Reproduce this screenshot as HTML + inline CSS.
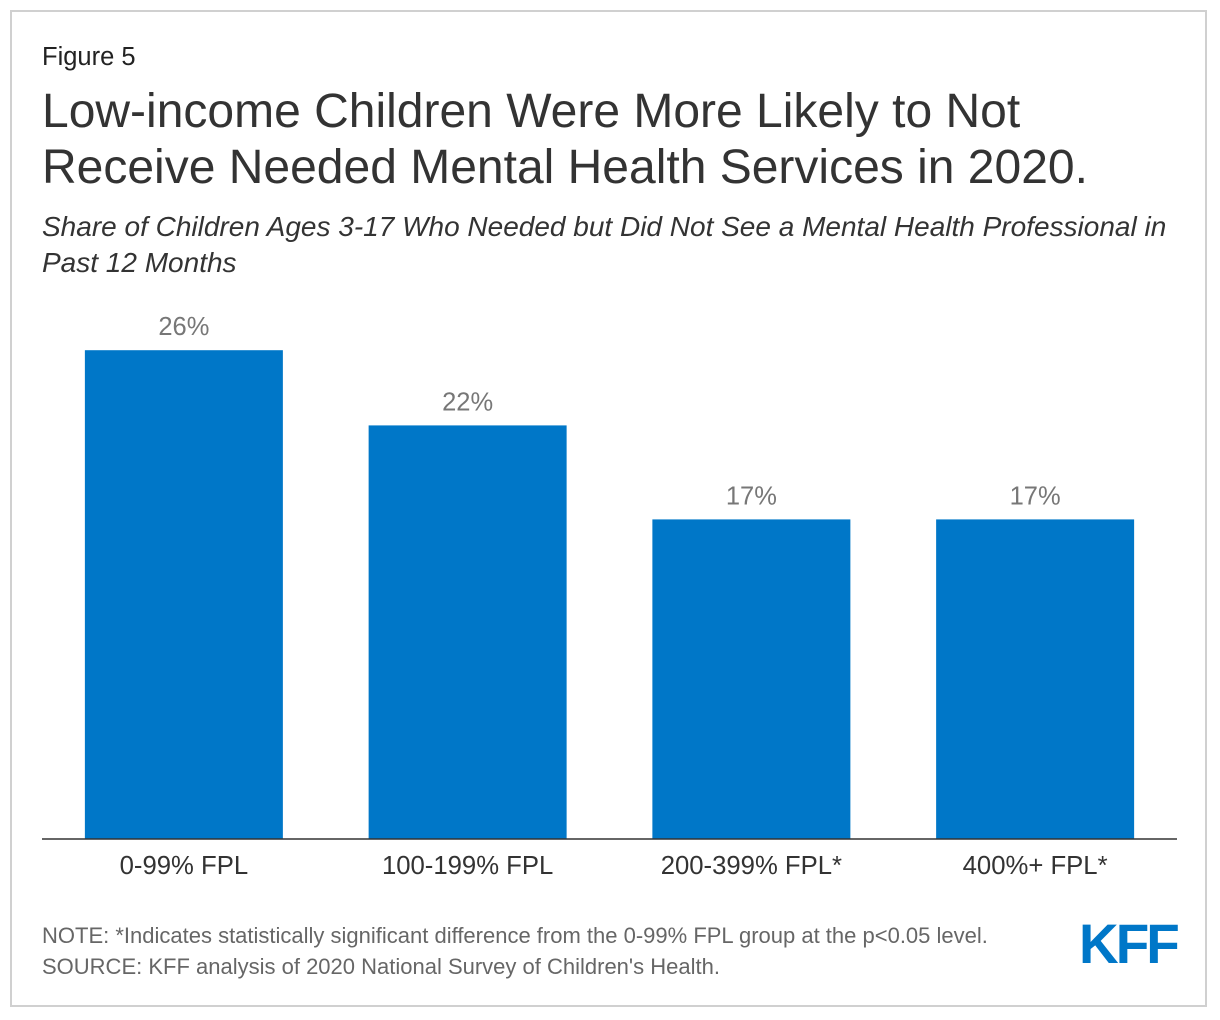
<!DOCTYPE html>
<html><head><meta charset="utf-8"><style>
html,body{margin:0;padding:0;background:#fff;}
body{width:1220px;height:1020px;position:relative;font-family:"Liberation Sans",Arial,sans-serif;overflow:hidden;}
#frame{position:absolute;left:10px;top:10px;width:1197px;height:997px;border:2px solid #d0d0d0;box-sizing:border-box;}
.t{position:absolute;left:42px;color:#333;white-space:nowrap;}
</style></head><body>
<div id="frame"></div>
<div class="t" style="top:43px;font-size:25.5px;color:#222;">Figure 5</div>
<div class="t" style="top:84px;font-size:48px;line-height:56px;color:#333;">Low-income Children Were More Likely to Not<br>Receive Needed Mental Health Services in 2020.</div>
<div class="t" style="top:209px;font-size:28px;line-height:36px;font-style:italic;color:#333;">Share of Children Ages 3-17 Who Needed but Did Not See a Mental Health Professional in<br>Past 12 Months</div>
<svg id="chart" width="1220" height="1020" style="position:absolute;left:0;top:0;"></svg>
<div class="t" style="top:923px;font-size:22px;color:#666;">NOTE: *Indicates statistically significant difference from the 0-99% FPL group at the p&lt;0.05 level.</div>
<div class="t" style="top:954px;font-size:22px;color:#666;">SOURCE: KFF analysis of 2020 National Survey of Children's Health.</div>
<div style="position:absolute;left:1079px;top:914px;font-size:56px;font-weight:bold;color:#0077c8;letter-spacing:-3px;line-height:60px;transform:scaleX(0.98);transform-origin:left;">KFF</div>
<script>
const categories=["0-99% FPL","100-199% FPL","200-399% FPL*","400%+ FPL*"];
const values=[26,22,17,17];
const valueLabels=["26%","22%","17%","17%"];
const svg=document.getElementById('chart');
const NS='http://www.w3.org/2000/svg';
const x0=42,x1=1177,base=839,pxPer=18.8,bw=198;
const step=(x1-x0)/categories.length;
function xc(i){return x0+step*(i+0.5);}
function y(v){return base-v*pxPer;}
function mk(t,a){const e=document.createElementNS(NS,t);for(const k in a)e.setAttribute(k,a[k]);svg.appendChild(e);return e;}
values.forEach((v,i)=>{
  const r=mk('rect',{x:xc(i)-bw/2,y:y(v),width:bw,height:base-y(v),fill:'#0077c8'});
  
  
  const l=mk('text',{x:xc(i),y:y(v)-15,'text-anchor':'middle','font-size':25.5,fill:'#777','font-family':'Liberation Sans, sans-serif'});
  l.textContent=valueLabels[i];
  
  
  const c=mk('text',{x:xc(i),y:base+35,'text-anchor':'middle','font-size':25.7,fill:'#333','font-family':'Liberation Sans, sans-serif'});
  c.textContent=categories[i];
  
  
});
const ax=mk('line',{x1:x0,x2:x1,y1:base,y2:base,stroke:'#333','stroke-width':1.5});


</script>
</body></html>
